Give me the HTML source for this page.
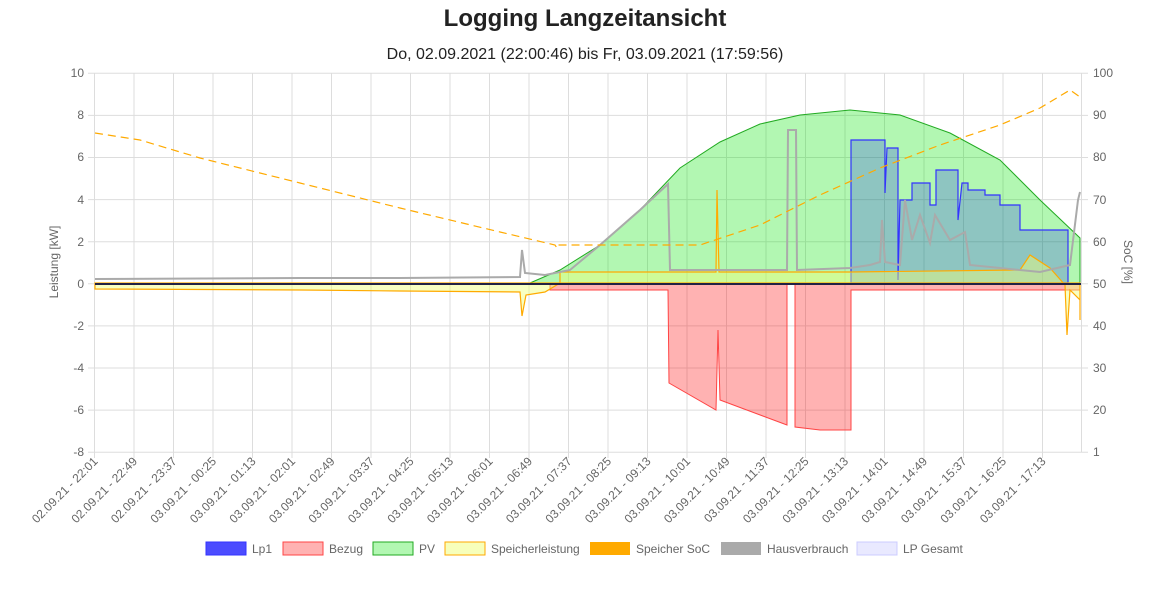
<!DOCTYPE html>
<html><head><meta charset="utf-8"><style>
body{margin:0;background:#fff;font-family:"Liberation Sans",sans-serif}
</style></head><body>
<svg width="1164" height="609" xmlns="http://www.w3.org/2000/svg" font-family="Liberation Sans, sans-serif">
<text x="585" y="26" text-anchor="middle" font-size="24" font-weight="bold" fill="#222">Logging Langzeitansicht</text>
<text x="585" y="59" text-anchor="middle" font-size="16" fill="#222">Do, 02.09.2021 (22:00:46) bis Fr, 03.09.2021 (17:59:56)</text>
<g stroke="#ddd" stroke-width="1">
<line x1="88" x2="1088" y1="73.3" y2="73.3"/><line x1="88" x2="1088" y1="115.4" y2="115.4"/><line x1="88" x2="1088" y1="157.5" y2="157.5"/><line x1="88" x2="1088" y1="199.6" y2="199.6"/><line x1="88" x2="1088" y1="241.7" y2="241.7"/><line x1="88" x2="1088" y1="283.8" y2="283.8"/><line x1="88" x2="1088" y1="325.9" y2="325.9"/><line x1="88" x2="1088" y1="368" y2="368"/><line x1="88" x2="1088" y1="410.1" y2="410.1"/><line x1="88" x2="1088" y1="452.2" y2="452.2"/>
<line x1="94.5" x2="94.5" y1="73" y2="458"/><line x1="134" x2="134" y1="73" y2="458"/><line x1="173.5" x2="173.5" y1="73" y2="458"/><line x1="213" x2="213" y1="73" y2="458"/><line x1="252.5" x2="252.5" y1="73" y2="458"/><line x1="292" x2="292" y1="73" y2="458"/><line x1="331.5" x2="331.5" y1="73" y2="458"/><line x1="371" x2="371" y1="73" y2="458"/><line x1="410.5" x2="410.5" y1="73" y2="458"/><line x1="450" x2="450" y1="73" y2="458"/><line x1="489.5" x2="489.5" y1="73" y2="458"/><line x1="529" x2="529" y1="73" y2="458"/><line x1="568.5" x2="568.5" y1="73" y2="458"/><line x1="608" x2="608" y1="73" y2="458"/><line x1="647.5" x2="647.5" y1="73" y2="458"/><line x1="687" x2="687" y1="73" y2="458"/><line x1="726.5" x2="726.5" y1="73" y2="458"/><line x1="766" x2="766" y1="73" y2="458"/><line x1="805.5" x2="805.5" y1="73" y2="458"/><line x1="845" x2="845" y1="73" y2="458"/><line x1="884.5" x2="884.5" y1="73" y2="458"/><line x1="924" x2="924" y1="73" y2="458"/><line x1="963.5" x2="963.5" y1="73" y2="458"/><line x1="1003" x2="1003" y1="73" y2="458"/><line x1="1042.5" x2="1042.5" y1="73" y2="458"/><line x1="1081.5" x2="1081.5" y1="73" y2="452"/>
</g>
<g font-size="12" fill="#666" text-anchor="end">
<text x="84" y="77">10</text><text x="84" y="119">8</text><text x="84" y="161">6</text><text x="84" y="204">4</text><text x="84" y="246">2</text><text x="84" y="288">0</text><text x="84" y="330">-2</text><text x="84" y="372">-4</text><text x="84" y="414">-6</text><text x="84" y="456">-8</text>
</g>
<g font-size="12" fill="#666">
<text x="1093" y="77">100</text><text x="1093" y="119">90</text><text x="1093" y="161">80</text><text x="1093" y="204">70</text><text x="1093" y="246">60</text><text x="1093" y="288">50</text><text x="1093" y="330">40</text><text x="1093" y="372">30</text><text x="1093" y="414">20</text><text x="1093" y="456">1</text>
</g>
<g font-size="12" fill="#666" text-anchor="end">
<text transform="translate(98.5,462) rotate(-45)">02.09.21 - 22:01</text>
<text transform="translate(138,462) rotate(-45)">02.09.21 - 22:49</text>
<text transform="translate(177.5,462) rotate(-45)">02.09.21 - 23:37</text>
<text transform="translate(217,462) rotate(-45)">03.09.21 - 00:25</text>
<text transform="translate(256.5,462) rotate(-45)">03.09.21 - 01:13</text>
<text transform="translate(296,462) rotate(-45)">03.09.21 - 02:01</text>
<text transform="translate(335.5,462) rotate(-45)">03.09.21 - 02:49</text>
<text transform="translate(375,462) rotate(-45)">03.09.21 - 03:37</text>
<text transform="translate(414.5,462) rotate(-45)">03.09.21 - 04:25</text>
<text transform="translate(454,462) rotate(-45)">03.09.21 - 05:13</text>
<text transform="translate(493.5,462) rotate(-45)">03.09.21 - 06:01</text>
<text transform="translate(533,462) rotate(-45)">03.09.21 - 06:49</text>
<text transform="translate(572.5,462) rotate(-45)">03.09.21 - 07:37</text>
<text transform="translate(612,462) rotate(-45)">03.09.21 - 08:25</text>
<text transform="translate(651.5,462) rotate(-45)">03.09.21 - 09:13</text>
<text transform="translate(691,462) rotate(-45)">03.09.21 - 10:01</text>
<text transform="translate(730.5,462) rotate(-45)">03.09.21 - 10:49</text>
<text transform="translate(770,462) rotate(-45)">03.09.21 - 11:37</text>
<text transform="translate(809.5,462) rotate(-45)">03.09.21 - 12:25</text>
<text transform="translate(849,462) rotate(-45)">03.09.21 - 13:13</text>
<text transform="translate(888.5,462) rotate(-45)">03.09.21 - 14:01</text>
<text transform="translate(928,462) rotate(-45)">03.09.21 - 14:49</text>
<text transform="translate(967.5,462) rotate(-45)">03.09.21 - 15:37</text>
<text transform="translate(1007,462) rotate(-45)">03.09.21 - 16:25</text>
<text transform="translate(1046.5,462) rotate(-45)">03.09.21 - 17:13</text>
</g>
<text transform="translate(58,262) rotate(-90)" text-anchor="middle" font-size="12" fill="#666">Leistung [kW]</text>
<text transform="translate(1124,262) rotate(90)" text-anchor="middle" font-size="12" fill="#666">SoC [%]</text>
<path d="M530,283 L560,270 L600,245 L640,210 L680,168 L720,142 L760,124 L800,115 L850,110 L900,115 L950,133 L1000,160 L1040,200 L1080,238 L1080,283 Z" fill="rgba(0,230,0,0.3)" stroke="#2a2" stroke-width="1"/>
<path d="M550,283 L550,290 L668,290 L669,383 L716,410 L718,330 L720,400 L787,425 L787,283 L795,283 L795,427 L820,430 L851,430 L851,290 L1080,290 L1080,283 Z" fill="rgba(255,0,0,0.3)" stroke="#f44" stroke-width="1"/>
<path d="M851,283 L851,140 L885,140 L885,193 L887,148 L898,148 L898,280 L900,200 L912,200 L912,183 L930,183 L930,205 L936,205 L936,170 L958,170 L958,220 L962,183 L968,183 L968,190 L985,190 L985,195 L1000,195 L1000,205 L1020,205 L1020,230 L1068,230 L1068,283 Z" fill="rgba(0,0,255,0.2)" stroke="#33f" stroke-width="1.2"/>
<path d="M95,283 L95,289 L300,290 L400,291 L520,292 L522,316 L526,295 L545,292 L560,283 L560,272 L716,272 L717,190 L719,272 L850,272 L1020,270 L1030,255 L1050,268 L1065,285 L1067,335 L1070,290 L1080,300 L1080,320 L1080,283 Z" fill="rgba(240,255,120,0.45)" stroke="#fa0" stroke-width="1.2"/>
<polyline points="95,279 300,278 400,278 520,277 522,250 525,273 545,275 570,270 600,245 640,210 668,184 670,270 700,270 787,270 788,130 796,130 797,270 850,268 870,265 880,262 882,220 885,262 900,265 905,200 912,240 920,215 930,243 935,215 950,240 965,232 970,265 1000,268 1040,272 1070,265 1078,200 1080,192" fill="none" stroke="#aaa" stroke-width="2"/>
<line x1="95" y1="284" x2="1081" y2="284" stroke="#224" stroke-width="2"/>
<polyline points="95,133 140,140 200,158 300,183 400,208 500,232 555,245 557,248 558,245 700,245 760,225 820,195 880,168 940,145 1000,125 1040,108 1070,90 1080,97" fill="none" stroke="#fa0" stroke-width="1.2" stroke-dasharray="8,5"/>
<g font-size="12" fill="#666">
<rect x="206" y="542" width="40" height="13" fill="rgba(0,0,255,0.7)" stroke="#33f"/><text x="252" y="553">Lp1</text>
<rect x="283" y="542" width="40" height="13" fill="rgba(255,0,0,0.3)" stroke="#f44"/><text x="329" y="553">Bezug</text>
<rect x="373" y="542" width="40" height="13" fill="rgba(0,230,0,0.3)" stroke="#2a2"/><text x="419" y="553">PV</text>
<rect x="445" y="542" width="40" height="13" fill="rgba(240,255,120,0.5)" stroke="#fa0"/><text x="491" y="553">Speicherleistung</text>
<rect x="590" y="542" width="40" height="13" fill="#fa0"/><text x="636" y="553">Speicher SoC</text>
<rect x="721" y="542" width="40" height="13" fill="#aaa"/><text x="767" y="553">Hausverbrauch</text>
<rect x="857" y="542" width="40" height="13" fill="rgba(200,200,255,0.4)" stroke="#ccf"/><text x="903" y="553">LP Gesamt</text>
</g>
</svg>
</body></html>
